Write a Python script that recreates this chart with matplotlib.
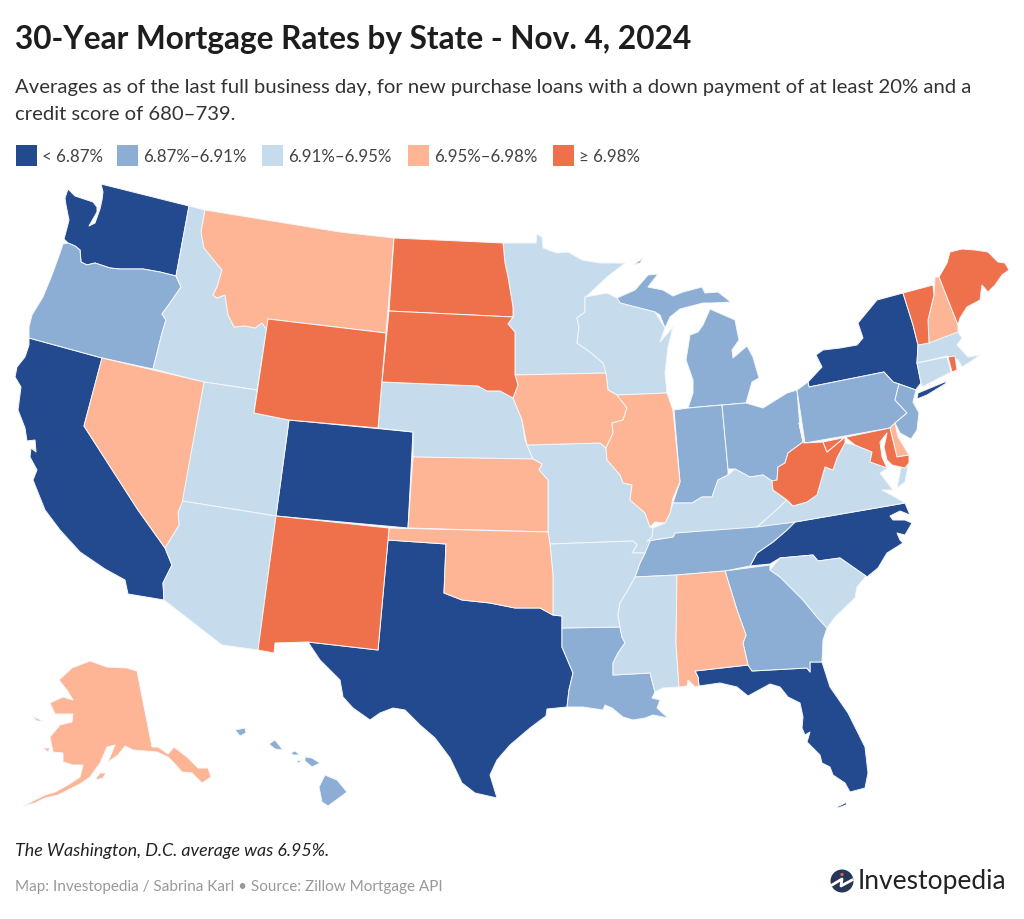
import matplotlib
matplotlib.use("Agg")
import matplotlib.pyplot as plt
from matplotlib.patches import Polygon, Rectangle, Circle

# rate buckets
bucket_labels = ["< 6.87%", "6.87%–6.91%", "6.91%–6.95%", "6.95%–6.98%", "≥ 6.98%"]
bucket_colors = ["#234A8E", "#8CADD4", "#C6DCEC", "#FDB596", "#EF714C"]

low = ["WA", "CA", "CO", "TX", "FL", "NC", "NY"]
mid_low = ["OR", "LA", "TN", "GA", "MI", "IN", "OH", "PA", "NJ", "HI"]
mid = ["ID", "UT", "AZ", "NE", "MN", "WI", "MO", "AR", "MS", "KY", "VA", "SC", "MA", "CT"]
mid_high = ["MT", "NV", "KS", "OK", "IA", "IL", "AL", "NH", "DE", "AK"]
high = ["WY", "ND", "SD", "NM", "WV", "MD", "VT", "ME", "RI"]
state_groups = [low, mid_low, mid, mid_high, high]

# state outlines, in image pixels
outlines = {
    "WA": [[(101,184),(189,206),(176,276),(160,272),(143,269),(120,269),(110,268),(95,263),(87,265),(81,262),(80,250),(75,246),(68,243),(64,239),(67,228),(69,220),(66,205),(65,198),(68,189),(75,196),(84,199),(93,202),(97,207),(97,212),(89,226),(95,223),(100,209),(102,200),(103,192)]],
    "OR": [[(68,243),(75,246),(80,250),(81,262),(87,265),(95,263),(110,268),(120,269),(143,269),(160,272),(176,276),(181,287),(170,303),(162,314),(166,320),(162,333),(153,369),(102,358),(29,338),(29,327),(32,315),(43,297),(52,275),(60,253),(63,244)]],
    "CA": [[(29,338),(102,358),(84,426),(138,510),(165,548),(172,565),(163,583),(164,600),(128,594),(125,580),(105,569),(80,552),(60,530),(45,510),(33,480),(37,470),(30,457),(31,448),(36,452),(35,440),(27,441),(25,428),(18,410),(21,387),(15,377),(17,367),(25,357),(29,345)]],
    "NV": [[(102,358),(204,382),(182,503),(178,512),(179,525),(165,548),(138,510),(84,426)]],
    "ID": [[(189,206),(205,210),(201,232),(204,248),(212,258),(222,270),(217,287),(213,295),(217,298),(225,295),(228,315),(234,327),(245,326),(255,328),(262,323),(267,330),(268,319),(257,390),(204,382),(153,369),(162,333),(166,320),(162,314),(170,303),(181,287),(176,276)]],
    "MT": [[(205,210),(340,232),(394,238),(386,333),(268,319),(267,330),(262,323),(255,328),(245,326),(234,327),(228,315),(225,295),(217,298),(213,295),(217,287),(222,270),(212,258),(204,248),(201,232)]],
    "WY": [[(268,319),(386,333),(378,428),(289,420),(254,413)]],
    "UT": [[(204,382),(257,390),(254,413),(289,420),(276,516),(182,501)]],
    "AZ": [[(182,501),(276,516),(258,650),(222,645),(164,600),(163,583),(172,565),(165,548),(179,525),(178,512)]],
    "CO": [[(289,420),(413,432),(408,528),(276,516)]],
    "NM": [[(276,516),(389,528),(388,540),(378,650),(308,642),(275,643),(274,653),(258,650)]],
    "TX": [[(388,540),(446,544),(444,593),(462,600),(490,603),(515,608),(540,608),(553,615),(562,616),(562,647),(573,673),(569,690),(567,707),(547,709),(546,716),(530,728),(510,745),(497,760),(490,775),(497,798),(475,793),(462,783),(450,758),(435,738),(420,725),(405,710),(393,708),(380,713),(370,720),(353,708),(343,697),(340,680),(320,660),(308,642),(378,650)]],
    "ND": [[(394,238),(503,243),(505,263),(508,277),(513,307),(513,317),(389,311)]],
    "SD": [[(389,311),(513,317),(508,324),(515,332),(515,375),(518,385),(513,398),(500,391),(487,391),(478,386),(382,382)]],
    "NE": [[(382,382),(478,386),(487,391),(500,391),(513,398),(518,410),(522,420),(525,440),(533,459),(413,457),(413,432),(378,428)]],
    "KS": [[(413,457),(533,459),(542,464),(539,470),(548,480),(548,532),(408,528)]],
    "OK": [[(389,528),(548,532),(550,544),(553,575),(553,615),(540,608),(515,608),(490,603),(462,600),(444,593),(446,544),(388,540)]],
    "MN": [[(503,243),(536,243),(537,234),(542,237),(543,248),(557,253),(568,252),(582,260),(600,263),(625,263),(607,277),(588,295),(585,297),(585,312),(577,318),(579,327),(577,343),(590,352),(603,363),(606,373),(515,375),(515,332),(508,324),(513,317),(513,307),(508,277),(505,263)]],
    "IA": [[(515,375),(606,373),(608,390),(617,395),(627,408),(623,420),(612,423),(613,433),(606,448),(600,443),(527,445),(522,420),(518,410),(513,398),(518,385)]],
    "MO": [[(527,445),(600,443),(606,448),(607,460),(620,475),(623,483),(632,485),(630,500),(645,513),(650,527),(653,528),(652,537),(645,553),(632,553),(637,545),(633,541),(550,544),(548,532),(548,480),(539,470),(542,464),(533,459)]],
    "AR": [[(550,544),(633,541),(637,545),(632,553),(645,553),(640,563),(635,577),(628,590),(620,603),(618,615),(620,627),(562,628),(562,616),(553,615),(553,575)]],
    "LA": [[(562,628),(620,627),(622,637),(625,643),(618,653),(613,663),(613,675),(650,673),(655,692),(652,698),(660,700),(657,708),(668,718),(653,715),(645,718),(633,720),(623,717),(612,708),(605,705),(603,710),(583,707),(567,707),(569,690),(573,673),(562,647)]],
    "WI": [[(585,297),(607,293),(617,298),(620,303),(655,312),(665,328),(660,342),(673,327),(668,347),(665,373),(667,393),(617,395),(608,390),(606,373),(603,363),(590,352),(577,343),(579,327),(577,318),(585,312)]],
    "IL": [[(617,395),(667,393),(673,410),(680,482),(673,498),(670,513),(665,523),(655,522),(650,527),(645,513),(630,500),(632,485),(623,483),(620,475),(607,460),(606,448),(613,433),(612,423),(623,420),(627,408)]],
    "MI": [[(688,408),(693,393),(693,380),(686,360),(690,335),(698,332),(703,325),(710,309),(735,320),(739,340),(732,350),(733,358),(747,346),(753,357),(759,378),(752,382),(746,403),(722,405)],
           [(617,298),(635,290),(648,275),(658,274),(648,287),(663,290),(673,296),(683,292),(702,287),(705,293),(718,292),(731,302),(712,303),(703,303),(680,309),(670,317),(665,328),(660,315),(655,312),(620,303)],
           [(633,265),(643,258),(640,263)]],
    "IN": [[(674,410),(688,408),(722,405),(728,469),(728,475),(718,480),(712,497),(702,497),(692,503),(673,503),(680,482)]],
    "OH": [[(722,405),(746,403),(763,408),(787,393),(797,390),(800,427),(803,442),(788,453),(785,463),(778,467),(777,480),(772,481),(763,475),(750,477),(735,469),(728,469)]],
    "KY": [[(728,475),(735,469),(750,477),(763,475),(772,481),(773,490),(787,500),(773,513),(757,527),(675,533),(673,537),(647,541),(652,537),(653,528),(665,523),(670,513),(673,503),(692,503),(702,497),(712,497),(718,480)]],
    "TN": [[(795,522),(675,533),(673,537),(647,541),(645,553),(640,563),(635,577),(677,575),(725,571),(750,566),(757,553),(773,542),(787,530)]],
    "MS": [[(635,577),(677,575),(676,643),(679,687),(663,688),(655,692),(650,673),(613,675),(613,663),(618,653),(625,643),(622,637),(620,627),(618,615),(620,603),(628,590)]],
    "AL": [[(677,575),(725,571),(737,610),(746,635),(743,643),(748,665),(695,671),(698,677),(699,686),(695,687),(688,680),(687,686),(679,687),(676,643)]],
    "GA": [[(725,571),(770,565),(770,570),(780,577),(803,600),(817,617),(827,628),(823,640),(822,662),(810,662),(810,672),(807,668),(752,671),(748,665),(743,643),(746,635),(737,610)]],
    "FL": [[(695,671),(748,665),(752,671),(807,668),(810,672),(810,662),(822,662),(830,687),(848,713),(865,747),(868,773),(865,788),(850,792),(845,783),(833,775),(830,767),(822,763),(820,755),(807,742),(810,732),(805,735),(802,728),(803,717),(800,703),(788,697),(780,687),(770,684),(748,696),(737,687),(720,683),(699,686),(698,677)],
           [(837,807),(847,802),(846,805),(838,808)]],
    "SC": [[(770,570),(780,558),(813,555),(818,561),(840,558),(866,576),(857,587),(855,598),(835,617),(827,628),(817,617),(803,600),(780,577)]],
    "NC": [[(750,566),(757,553),(773,542),(787,530),(795,522),(905,503),(910,515),(900,511),(890,516),(893,520),(905,520),(912,523),(905,535),(897,533),(900,540),(903,543),(887,553),(878,568),(867,577),(840,558),(818,561),(813,555),(780,558),(770,564)]],
    "VA": [[(787,500),(793,506),(807,502),(817,495),(825,467),(833,470),(837,458),(845,443),(855,445),(872,452),(870,462),(888,468),(880,473),(893,490),(882,490),(895,497),(905,503),(795,522),(757,527),(773,513)],
           [(908,466),(901,468),(897,488),(905,482)]],
    "WV": [[(772,481),(777,480),(778,467),(785,463),(788,453),(803,442),(799,423),(804,443),(823,442),(827,452),(845,437),(845,443),(837,458),(833,470),(825,467),(817,495),(807,502),(793,506),(787,500),(773,490)]],
    "MD": [[(823,442),(890,428),(897,457),(909,455),(909,463),(905,468),(892,465),(887,460),(884,447),(887,433),(880,442),(882,457),(887,468),(873,463),(870,462),(872,452),(855,445),(845,437),(827,452)]],
    "DE": [[(890,428),(895,423),(898,437),(909,455),(897,457)]],
    "PA": [[(797,390),(808,382),(809,387),(884,372),(893,382),(899,384),(895,400),(907,413),(895,423),(890,428),(805,443)]],
    "NJ": [[(899,384),(916,390),(913,402),(919,413),(917,430),(911,439),(900,433),(895,423),(907,413),(895,400)]],
    "NY": [[(809,387),(808,382),(822,367),(816,355),(823,350),(840,348),(857,345),(863,338),(858,323),(877,300),(903,293),(913,325),(918,345),(917,363),(921,383),(917,388),(916,390),(899,384),(893,382),(884,372)],
           [(917,399),(918,393),(947,381),(945,384),(927,395)]],
    "VT": [[(903,293),(933,285),(934,295),(928,320),(929,343),(918,345),(913,325)]],
    "NH": [[(935,277),(939,277),(958,325),(958,332),(929,343),(928,320),(934,295)]],
    "ME": [[(939,277),(947,263),(950,252),(962,249),(975,250),(988,252),(998,262),(1005,263),(1009,270),(1002,275),(995,285),(988,292),(982,285),(980,300),(967,307),(960,318),(958,325)]],
    "MA": [[(918,345),(958,332),(962,338),(957,345),(968,357),(980,355),(970,362),(962,367),(958,360),(947,356),(917,363)]],
    "CT": [[(917,363),(947,357),(951,372),(922,387),(921,383)]],
    "RI": [[(948,357),(955,356),(957,370),(952,372)]],
    "AK": [[(137,671),(152,747),(158,747),(168,754),(174,747),(187,757),(198,768),(208,768),(211,777),(202,783),(192,773),(182,772),(175,764),(168,757),(157,752),(133,750),(125,746),(118,755),(108,762),(115,745),(107,747),(100,763),(90,777),(80,784),(68,790),(58,795),(45,798),(35,803),(23,806),(33,801),(45,795),(55,792),(68,785),(80,777),(83,765),(73,765),(63,762),(63,753),(53,752),(50,737),(60,725),(72,722),(73,714),(55,714),(50,703),(63,697),(73,700),(67,690),(59,680),(72,668),(90,661),(107,667),(127,668)],
           [(95,780),(100,773),(106,773),(103,778)],
           [(32,716),(43,721),(37,721)],
           [(43,748),(50,748),(48,752)]],
    "HI": [[(325,775),(337,780),(347,792),(328,806),(322,802),(319,787)],
           [(305,757),(312,758),(320,763),(312,767),(305,761)],
           [(291,753),(295,751),(300,755),(293,755)],
           [(297,760),(302,761),(298,763)],
           [(269,744),(275,740),(283,750),(275,749)],
           [(235,730),(245,728),(246,733),(240,736)]],
}

title = "30-Year Mortgage Rates by State - Nov. 4, 2024"
subtitle_1 = "Averages as of the last full business day, for new purchase loans with a down payment of at least 20% and a"
subtitle_2 = "credit score of 680–739."
note = "The Washington, D.C. average was 6.95%."
source = "Map: Investopedia / Sabrina Karl • Source: Zillow Mortgage API"

plt.rcParams['font.family'] = ['Lato', 'DejaVu Sans']

fig = plt.figure(figsize=(10.24, 9.19), dpi=100)
ax = fig.add_axes([0, 0, 1, 1])
ax.set_xlim(0, 1024)
ax.set_ylim(919, 0)
ax.axis('off')

for group, color in zip(state_groups, bucket_colors):
    for state in group:
        for part in outlines[state]:
            ax.add_patch(Polygon(part, closed=True, facecolor=color,
                                 edgecolor='#f4f7fa', linewidth=0.7, joinstyle='round'))

# title block
ax.text(15, 39, title, fontsize=22.8, fontweight='bold', color='#1d1d1d', va='center')
ax.text(15, 88, subtitle_1, fontsize=14.6, color='#333333', va='center')
ax.text(15, 114, subtitle_2, fontsize=14.6, color='#333333', va='center')

# legend
swatch_x = [16, 117, 262, 408, 553]
for x, label, color in zip(swatch_x, bucket_labels, bucket_colors):
    ax.add_patch(Rectangle((x, 145), 21, 21, facecolor=color, edgecolor='none'))
    ax.text(x + 26, 156.5, label, fontsize=12.2, color='#444444', va='center')

ax.text(15, 851, note, fontsize=12.85, color='#222222', style='italic', va='center')
ax.text(15, 887, source, fontsize=11, color='#999999', va='center')

# logo
ax.add_patch(Circle((842, 881), 11.5, facecolor='#26375a', edgecolor='none'))
ax.plot([832, 842, 841, 852], [885, 879, 886, 880], color='white', lw=2)
ax.add_patch(Circle((842, 874.5), 1.6, facecolor='#e8643c', edgecolor='none'))
ax.text(858, 881, "Investopedia", fontsize=19, color='#1f2328', va='center')

fig.savefig("out.png", dpi=100)
